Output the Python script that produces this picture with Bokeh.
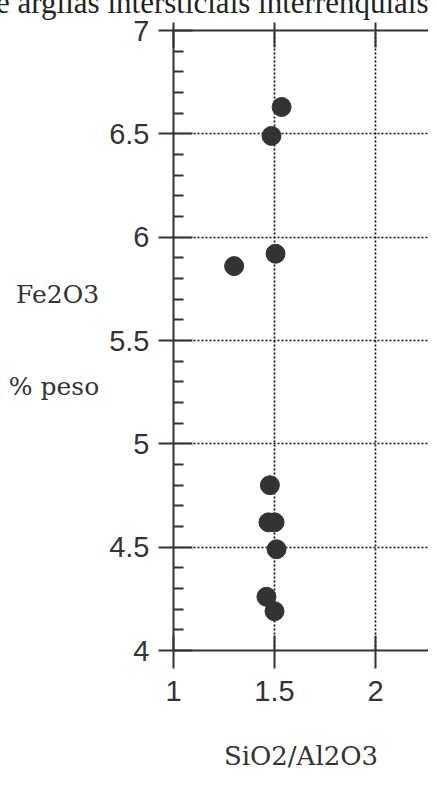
from bokeh.plotting import figure
from bokeh.models import Range1d, LinearAxis, FixedTicker, Grid
from bokeh.embed import file_html
from bokeh.resources import INLINE

# --- data ---
si_al = [1.535, 1.485, 1.505, 1.30, 1.477, 1.47, 1.50, 1.51, 1.46, 1.50]
fe2o3 = [6.63, 6.49, 5.92, 5.86, 4.80, 4.62, 4.62, 4.49, 4.26, 4.19]

x_ticks = [1, 1.5, 2]
x_tick_labels = ["1", "1.5", "2"]
y_ticks = [4, 4.5, 5, 5.5, 6, 6.5, 7]
y_tick_labels = ["4", "4.5", "5", "5.5", "6", "6.5", "7"]
y_minor = [round(4 + 0.1 * i, 1) for i in range(31) if i % 5 != 0]

title_text = "e argilas intersticiais interrenquiais"
x_label = "SiO2/Al2O3"
y_label = "Fe2O3\n\n\n% peso"

W, H = 428, 774
p = figure(width=W, height=H, output_backend="svg", toolbar_location=None,
           x_range=Range1d(1, 2.262), y_range=Range1d(4, 7),
           x_axis_type=None, y_axis_type=None,
           min_border_left=173, min_border_right=0,
           min_border_top=30, min_border_bottom=124,
           outline_line_color=None, background_fill_color="white",
           border_fill_color="white")

# title: a second (blank) line lets it sit high, partly cut by the top edge
p.title.text = title_text + "\n "
p.title.text_font = "Liberation Serif"
p.title.text_font_size = "31px"
p.title.text_font_style = "normal"
p.title.text_color = "#222222"
p.title.align = "right"
p.title.offset = 0
p.title.vertical_align = "top"
p.title.standoff = -69

ink = "#333333"
tick_font = "Liberation Sans"
lab_font = "DejaVu Serif"

xt = FixedTicker(ticks=x_ticks, minor_ticks=[])
yt = FixedTicker(ticks=y_ticks, minor_ticks=y_minor)

left = LinearAxis(ticker=yt, major_tick_out=15, major_tick_in=19,
                  minor_tick_in=10, minor_tick_out=0,
                  axis_line_width=2, major_tick_line_width=2, minor_tick_line_width=2,
                  axis_line_color=ink, major_tick_line_color=ink, minor_tick_line_color=ink,
                  major_label_standoff=9,
                  major_label_overrides=dict(zip(y_ticks, y_tick_labels)),
                  major_label_text_font=tick_font, major_label_text_font_size="29px",
                  major_label_text_color=ink,
                  axis_label=y_label, axis_label_orientation="horizontal",
                  axis_label_standoff=7, axis_label_text_font=lab_font,
                  axis_label_text_font_size="25px", axis_label_text_font_style="normal",
                  axis_label_text_color=ink, axis_label_text_line_height=1.06)
p.add_layout(left, "left")

below = LinearAxis(ticker=xt, major_tick_out=18, major_tick_in=15,
                   minor_tick_in=0, minor_tick_out=0,
                   axis_line_width=2, major_tick_line_width=2,
                   axis_line_color=ink, major_tick_line_color=ink,
                   major_label_standoff=12,
                   major_label_overrides=dict(zip(x_ticks, x_tick_labels)),
                   major_label_text_font=tick_font, major_label_text_font_size="29px",
                   major_label_text_color=ink,
                   axis_label=x_label, axis_label_standoff=37, axis_label_text_font=lab_font,
                   axis_label_text_font_size="26px", axis_label_text_font_style="normal",
                   axis_label_text_color=ink)
p.add_layout(below, "below")

above = LinearAxis(ticker=xt, major_tick_out=8, major_tick_in=17,
                   minor_tick_in=0, minor_tick_out=0,
                   axis_line_width=2, major_tick_line_width=2,
                   axis_line_color=ink, major_tick_line_color=ink,
                   major_label_overrides={t: "" for t in x_ticks},
                   major_label_text_font_size="10px", major_label_standoff=0)
p.add_layout(above, "above")

gx = Grid(dimension=0, ticker=FixedTicker(ticks=x_ticks[1:]),
          grid_line_color="#111111", grid_line_width=1.7, grid_line_dash="2 2")
gy = Grid(dimension=1, ticker=FixedTicker(ticks=y_ticks[1:-1]),
          grid_line_color="#111111", grid_line_width=1.7, grid_line_dash="2 2")
p.add_layout(gx)
p.add_layout(gy)

p.scatter(si_al, fe2o3, size=19, marker="circle", fill_color="#333333", line_color="#333333")

open("out.html", "w").write(file_html(p, INLINE))
